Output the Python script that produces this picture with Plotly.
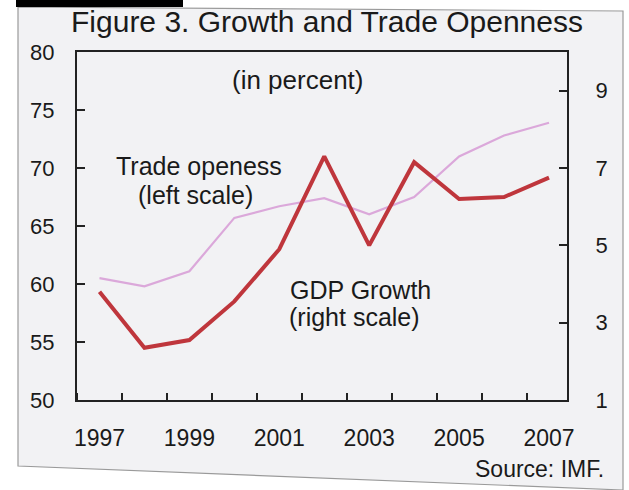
import plotly.graph_objects as go

years = list(range(1997, 2008))
trade_openness = [60.5, 59.8, 61.1, 65.7, 66.7, 67.4, 66.0, 67.5, 71.0, 72.8, 73.9]
gdp_growth = [3.8, 2.35, 2.55, 3.55, 4.9, 7.3, 5.0, 7.15, 6.2, 6.25, 6.75]
x_tick_labels = ["1997", "1999", "2001", "2003", "2005", "2007"]
left_ticks = [50, 55, 60, 65, 70, 75, 80]
right_ticks = [1, 3, 5, 7, 9]

W, H = 629, 490
L, R, T, B = 77, 62, 52, 90
pw, ph = W - L - R, H - T - B

def px(x):
    return (x - L) / pw

def py(y):
    return (H - B - y) / ph

FONT = "Liberation Sans, Arial, sans-serif"
TXT = "#1a1a1a"
PAGE = "#f2f2f4"

fig = go.Figure()
fig.add_trace(go.Scatter(x=years, y=trade_openness, mode="lines",
                         line=dict(color="#dba8da", width=2.2),
                         name="Trade openess", yaxis="y"))
fig.add_trace(go.Scatter(x=years, y=gdp_growth, mode="lines",
                         line=dict(color="#bf363c", width=4),
                         name="GDP Growth", yaxis="y2"))

fig.update_layout(
    width=W, height=H,
    margin=dict(l=L, r=R, t=T, b=B),
    paper_bgcolor="#ffffff", plot_bgcolor=PAGE,
    showlegend=False,
    font=dict(family=FONT, color=TXT),
    title=dict(text="Figure 3. Growth and Trade Openness",
               x=327 / W, xanchor="center", y=1 - 21 / H, yanchor="middle",
               font=dict(size=30, family=FONT, color=TXT)),
    xaxis=dict(range=[1996.5, 2007.4],
               tickmode="array", tickvals=[int(t) for t in x_tick_labels],
               ticktext=x_tick_labels, ticks="", ticklabelstandoff=16,
               tickfont=dict(size=23, family=FONT, color=TXT),
               minor=dict(tickmode="linear", tick0=1997.5, dtick=1,
                          ticks="inside", ticklen=7, tickcolor="#222", tickwidth=1.5),
               showline=True, linecolor="#222", linewidth=2, mirror=True,
               showgrid=False, zeroline=False, fixedrange=True),
    yaxis=dict(range=[50, 80], tickmode="array", tickvals=left_ticks,
               ticks="inside", ticklen=8, tickcolor="#222", tickwidth=1.5,
               ticklabelstandoff=16,
               tickfont=dict(size=22, family=FONT, color=TXT),
               showline=True, linecolor="#222", linewidth=2, mirror=True,
               showgrid=False, zeroline=False),
    yaxis2=dict(range=[1, 10], tickmode="array", tickvals=right_ticks,
                overlaying="y", side="right",
                ticks="inside", ticklen=8, tickcolor="#222", tickwidth=1.5,
                ticklabelstandoff=22,
                tickfont=dict(size=22, family=FONT, color=TXT),
                showline=True, linecolor="#222", linewidth=2,
                showgrid=False, zeroline=False),
)

# scanned page background
page_pts = [(18, 7), (623, 11), (623, 490), (18, 466)]
path = "M " + " L ".join(f"{px(x):.5f},{py(y):.5f}" for x, y in page_pts) + " Z"
fig.add_shape(type="path", xref="paper", yref="paper", path=path,
              fillcolor=PAGE, line=dict(color="#9a9a9a", width=1.2), layer="below")

def note(text, xc, yc, size=25, anchor="center"):
    fig.add_annotation(text=text, xref="paper", yref="paper",
                       x=px(xc), y=py(yc), xanchor=anchor, yanchor="middle",
                       showarrow=False, font=dict(size=size, family=FONT, color=TXT))

note("(in percent)", 298, 80, size=26)
note("Trade openess", 114, 166, anchor="left")
note("(left scale)", 136, 195, anchor="left")
note("GDP Growth", 288, 290, anchor="left")
note("(right scale)", 287, 317, anchor="left")
note("Source: IMF.", 606, 469, size=23, anchor="right")

# scan artefact bar at top-left
fig.add_shape(type="rect", xref="paper", yref="paper",
              x0=px(16), x1=px(183), y0=py(7), y1=py(0),
              fillcolor="#000000", line=dict(width=0), layer="above")

fig.write_html("out.html", config={"displayModeBar": False},
               post_script="document.body.style.margin='0';document.body.style.overflow='hidden';")
